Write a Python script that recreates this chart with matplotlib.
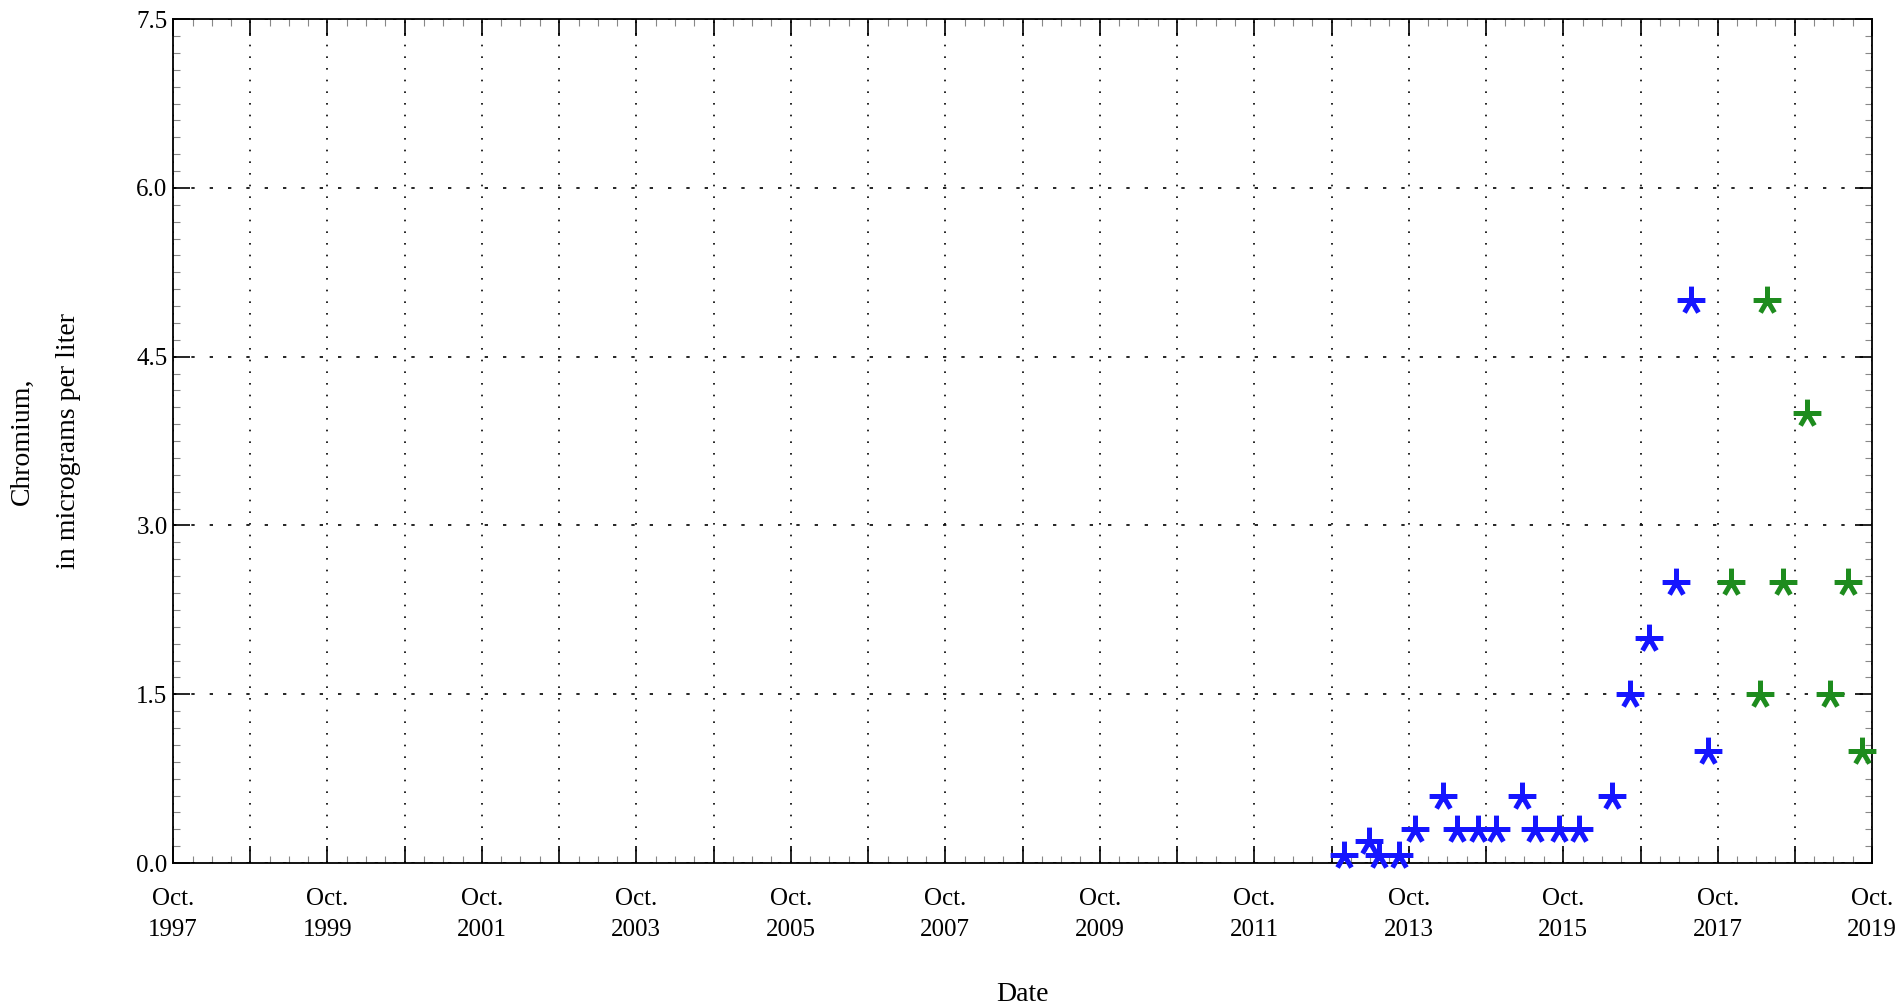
import matplotlib
matplotlib.use("Agg")
import matplotlib.pyplot as plt
import matplotlib.dates as mdates
from matplotlib.path import Path
import numpy as np
import pandas as pd

plt.rcParams['font.family'] = ['Liberation Serif', 'DejaVu Serif']

# blue series
blue_dates = ['2012-11-27', '2013-03-25', '2013-05-15', '2013-08-18', '2013-10-30',
              '2014-03-10', '2014-05-18', '2014-08-22', '2014-11-17', '2015-03-22',
              '2015-05-19', '2015-09-13', '2015-12-13', '2016-05-19', '2016-08-11',
              '2016-11-10', '2017-03-18', '2017-05-27', '2017-08-15']
blue_vals = [0.07, 0.2, 0.07, 0.07, 0.3,
             0.6, 0.3, 0.3, 0.3, 0.6,
             0.3, 0.3, 0.3, 0.6, 1.5,
             2.0, 2.5, 5.0, 1.0]

# green series
green_dates = ['2017-12-02', '2018-04-20', '2018-05-23', '2018-08-04',
               '2018-11-28', '2019-03-15', '2019-06-10', '2019-08-15']
green_vals = [2.5, 1.5, 5.0, 2.5, 4.0, 1.5, 2.5, 1.0]

y_ticks = [0.0, 1.5, 3.0, 4.5, 6.0, 7.5]

# asterisk: vertical top arm, flat bar, two lower legs
verts, codes = [], []
for a in [90, 0, 180, 240, 300]:
    r = np.radians(a)
    verts += [(0, 0), (np.cos(r), np.sin(r))]
    codes += [Path.MOVETO, Path.LINETO]
star = Path(verts, codes)

fig = plt.figure(figsize=(19, 10.06), dpi=100)
ax = fig.add_axes([0.0911, 0.1421, 0.8942, 0.8389])

ax.plot(pd.to_datetime(blue_dates), blue_vals, linestyle='none', marker=star,
        markersize=20, markeredgewidth=3.6, color='#1515ff', clip_on=False, zorder=3)
ax.plot(pd.to_datetime(green_dates), green_vals, linestyle='none', marker=star,
        markersize=20, markeredgewidth=3.6, color='#1e8c1e', clip_on=False, zorder=3)

ax.set_xlim(pd.Timestamp('1997-10-01'), pd.Timestamp('2019-10-01'))
ax.set_ylim(0, 7.5)

ax.xaxis.set_major_locator(mdates.MonthLocator(bymonth=10, bymonthday=1))
ax.xaxis.set_minor_locator(mdates.MonthLocator(bymonth=[1, 4, 7]))

def fmt(x, pos):
    d = mdates.num2date(x)
    if (d.year - 1997) % 2 == 0:
        return 'Oct.\n%d' % d.year
    return ''

ax.xaxis.set_major_formatter(plt.FuncFormatter(fmt))
ax.set_yticks(y_ticks)
ax.yaxis.set_major_formatter(plt.FormatStrFormatter('%.1f'))
ax.yaxis.set_minor_locator(plt.MultipleLocator(0.15))

ax.tick_params(axis='both', which='major', direction='in', length=12, width=1.2,
               top=True, right=True, labelsize=18)
ax.tick_params(axis='both', which='minor', direction='in', length=5, width=0.8,
               top=True, right=True, color='#888888')
ax.tick_params(axis='x', which='major', pad=18)
ax.tick_params(axis='y', which='major', pad=4)
for lab in ax.get_xticklabels():
    lab.set_linespacing(1.5)

ax.grid(True, axis='x', which='major', color='black', linestyle=(0, (1, 6)), linewidth=1.2)
ax.grid(True, axis='y', which='major', color='black', linestyle=(0, (2, 9)), linewidth=1.2)

for s in ax.spines.values():
    s.set_linewidth(1.3)

ax.set_xlabel('Date', fontsize=20, labelpad=30)
ax.set_ylabel('Chromium,\nin micrograms per liter', fontsize=20, labelpad=40,
              linespacing=2.1)

fig.savefig('out.png', dpi=100)
